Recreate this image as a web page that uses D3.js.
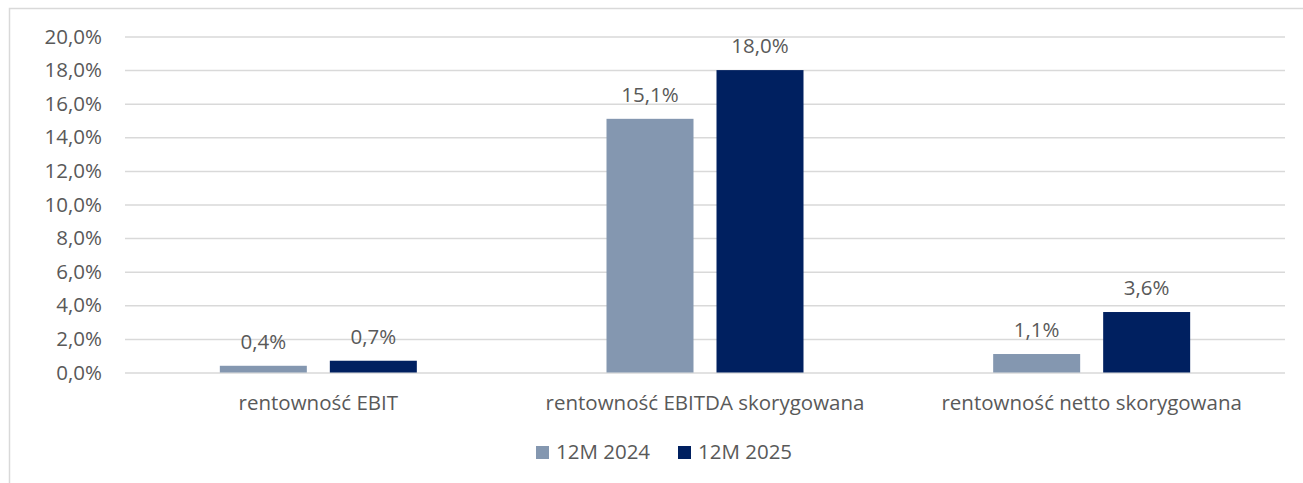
<!DOCTYPE html>
<html><head><meta charset="utf-8">
<script src="https://cdn.jsdelivr.net/npm/d3@7/dist/d3.min.js"></script>
<style>body{margin:0;background:#fff;}svg{display:block;}</style>
</head><body>
<svg id="c" width="1303" height="483"></svg>
<script>
const categories = ["rentowność EBIT", "rentowność EBITDA skorygowana", "rentowność netto skorygowana"];
const seriesNames = ["12M 2024", "12M 2025"];
const values2024 = [0.4, 15.1, 1.1];
const values2025 = [0.7, 18.0, 3.6];
const yTicks = [0, 2, 4, 6, 8, 10, 12, 14, 16, 18, 20];
const colors = ["#8497B0", "#002060"];

(function(){
const svg = d3.select("#c");
const font = "Open Sans, sans-serif";
const fs = 20.5;
const textCol = "#595959";

// border
svg.append("path").attr("d", "M9.5,490 V8.5 H1310").attr("fill","none").attr("stroke","#d9d9d9").attr("stroke-width",1.5);

const pLeft = 125, pRight = 1285, pTop = 36.5, pBottom = 372.5;
const x = d3.scaleBand().domain(categories).range([pLeft, pRight]);
const y = d3.scaleLinear().domain([0, 20]).range([pBottom, pTop]);
const x1 = d3.scalePoint().domain(seriesNames).range([-55, 55]);

const fmt = v => v.toFixed(1).replace(".", ",") + "%";

const yAxis = d3.axisLeft(y).tickValues(yTicks).tickFormat(fmt).tickSize(-(pRight-pLeft)).tickPadding(23);
const gy = svg.append("g").attr("transform", `translate(${pLeft},0)`).call(yAxis);
gy.select(".domain").remove();
gy.selectAll(".tick line").attr("stroke", "#d9d9d9").attr("stroke-width", 1.5);
gy.selectAll(".tick text").attr("fill", textCol).attr("font-family", font).attr("font-size", fs);

const data = categories.map((c,i) => ({cat:c, vals:[values2024[i], values2025[i]]}));
const bw = 87;
const groups = svg.append("g").selectAll("g").data(data).join("g")
  .attr("transform", d => `translate(${x(d.cat) + x.bandwidth()/2},0)`);
groups.selectAll("rect").data(d => d.vals.map((v,j)=>({v, s:seriesNames[j], j})))
  .join("rect")
  .attr("x", d => x1(d.s) - bw/2).attr("width", bw)
  .attr("y", d => y(d.v)).attr("height", d => y(0) - y(d.v))
  .attr("fill", d => colors[d.j]);
groups.selectAll("text").data(d => d.vals.map((v,j)=>({v, s:seriesNames[j], j})))
  .join("text")
  .attr("x", d => x1(d.s)).attr("y", d => y(d.v) - 17)
  .attr("text-anchor","middle").attr("fill", textCol).attr("font-family", font).attr("font-size", fs)
  .text(d => fmt(d.v));

const xAxis = d3.axisBottom(x).tickSize(0).tickPadding(23);
const gx = svg.append("g").attr("transform", `translate(0,${pBottom})`).call(xAxis);
gx.select(".domain").remove();
gx.selectAll(".tick text").attr("fill", textCol).attr("font-family", font).attr("font-size", fs);

// legend
const legX = [536, 678];
const leg = svg.append("g").selectAll("g").data(seriesNames).join("g")
  .attr("transform", (d,i) => `translate(${legX[i]},446)`);
leg.append("rect").attr("width", 13).attr("height", 13).attr("fill", (d,i)=>colors[i]);
leg.append("text").attr("x", 20).attr("y", 13).attr("fill", textCol).attr("font-family", font).attr("font-size", fs).text(d=>d);
})();
</script>
</body></html>
